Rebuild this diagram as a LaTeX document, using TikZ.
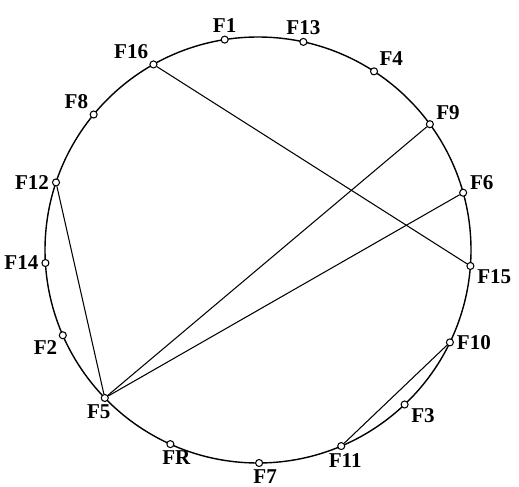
\documentclass[tikz,border=0pt]{standalone}
\usepackage{fontspec}
\setmainfont{Liberation Serif}
\begin{document}
\begin{tikzpicture}[x=0.02cm,y=0.02cm,
  pt/.style={circle,draw,fill=white,inner sep=0pt,minimum size=4pt,line width=0.6pt},
  lbl/.style={font=\fontsize{12}{14}\selectfont\bfseries,inner sep=1pt,label distance=0.5pt}]
\useasboundingbox (-258,-236) rectangle (261,250);
\draw[line width=0.8pt] (0,0) circle (213);
% points on the circle
\foreach \n/\a/\p/\s in {F1/99/90/0,F13/77.7/90/0,F4/57/45/0,F9/36.2/30/0,F6/15.6/10/0,
  F15/-4.3/-15/0,F10/-25.7/0/0,F3/-46.5/-20/0,F11/-67/-90/4,F7/-89.7/-90/6,
  FR/245.7/-90/6,F5/224/-90/-6,F2/203.6/225/0,F14/183.5/180/0,F12/161.5/180/0,
  F8/140.5/135/0,F16/119.4/130/0}
  \node[pt,label={[lbl,xshift=\s*0.02cm]\p:\n}] (\n) at (\a:213) {};
% chords
\draw[line width=0.6pt] (F16) -- (F15);
\draw[line width=0.6pt] (F12) -- (F5);
\draw[line width=0.6pt] (F5) -- (F9);
\draw[line width=0.6pt] (F5) -- (F6);
\draw[line width=0.6pt] (F10) -- (F11);
\end{tikzpicture}
\end{document}
